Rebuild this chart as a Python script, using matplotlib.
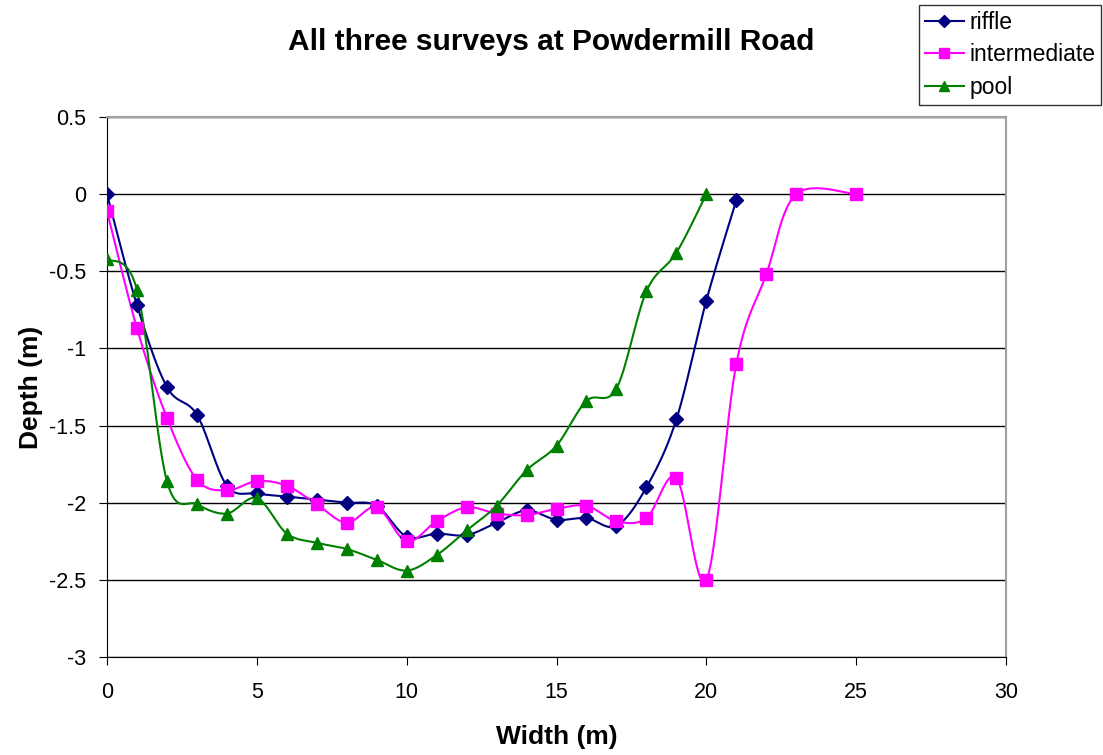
import numpy as np
import matplotlib
matplotlib.use('Agg')
from matplotlib import pyplot as plt

# survey data
riffle_x = list(range(0, 22))
riffle_y = [0.0, -0.72, -1.25, -1.43, -1.89, -1.94, -1.96, -1.98, -2.00, -2.02,
            -2.22, -2.20, -2.21, -2.13, -2.05, -2.11, -2.10, -2.15, -1.90, -1.46,
            -0.69, -0.04]

inter_x = list(range(0, 24)) + [25]
inter_y = [-0.11, -0.87, -1.45, -1.85, -1.92, -1.86, -1.89, -2.01, -2.13, -2.03,
           -2.25, -2.12, -2.03, -2.07, -2.08, -2.04, -2.02, -2.12, -2.10, -1.84,
           -2.50, -1.10, -0.52, 0.0, 0.0]

pool_x = list(range(0, 21))
pool_y = [-0.42, -0.62, -1.86, -2.01, -2.07, -1.97, -2.20, -2.26, -2.30, -2.37,
          -2.44, -2.34, -2.18, -2.02, -1.79, -1.63, -1.34, -1.26, -0.63, -0.38,
          0.0]


def smooth(x, y, n=30):
    """Excel-style smoothed line: Catmull-Rom bezier through the points."""
    x = np.asarray(x, float)
    y = np.asarray(y, float)
    pts = np.column_stack([x, y])
    out = []
    for i in range(len(pts) - 1):
        p0 = pts[i - 1] if i > 0 else pts[i]
        p1 = pts[i]
        p2 = pts[i + 1]
        p3 = pts[i + 2] if i + 2 < len(pts) else pts[i + 1]
        c1 = p1 + (p2 - p0) / 6.0
        c2 = p2 - (p3 - p1) / 6.0
        t = np.linspace(0, 1, n)[:, None]
        seg = ((1 - t) ** 3) * p1 + 3 * ((1 - t) ** 2) * t * c1 \
            + 3 * (1 - t) * t ** 2 * c2 + t ** 3 * p2
        out.append(seg if i == 0 else seg[1:])
    out = np.vstack(out)
    return out[:, 0], out[:, 1]


plt.rcParams['font.family'] = ['Liberation Sans', 'DejaVu Sans']

fig = plt.figure(figsize=(11.03, 7.55), dpi=100)
ax = fig.add_axes([107 / 1103, 1 - 657 / 755, 899 / 1103, 540 / 755])

series = [
    ('riffle', riffle_x, riffle_y, '#000080', 'D', 7),
    ('intermediate', inter_x, inter_y, '#ff00ff', 's', 8),
    ('pool', pool_x, pool_y, '#008000', '^', 8),
]
handles = []
for name, xs, ys, col, mk, ms in series:
    sx, sy = smooth(xs, ys)
    ax.plot(sx, sy, color=col, lw=1.5, zorder=3)
    ax.plot(xs, ys, ls='none', marker=mk, ms=ms, color=col, zorder=4)
    h, = ax.plot([], [], color=col, lw=1.5, marker=mk, ms=ms - 1)
    handles.append(h)

ax.set_xlim(0, 30)
ax.set_ylim(-3, 0.5)
ax.set_xticks(np.arange(0, 31, 5))
ax.set_yticks(np.arange(-3, 0.51, 0.5))
ax.set_yticklabels(['-3', '-2.5', '-2', '-1.5', '-1', '-0.5', '0', '0.5'])
ax.yaxis.grid(True, color='black', lw=1)
ax.set_axisbelow(True)
for s in ['top', 'right']:
    ax.spines[s].set_color('#a0a0a0')
    ax.spines[s].set_linewidth(1.5)
for s in ['left', 'bottom']:
    ax.spines[s].set_color('black')
ax.tick_params(direction='out', length=6, labelsize=15.5)
ax.tick_params(axis='x', pad=12)
ax.tick_params(axis='y', pad=9)

ax.set_xlabel('Width (m)', fontsize=19, fontweight='bold', labelpad=16)
ax.set_ylabel('Depth (m)', fontsize=19, fontweight='bold', labelpad=4)
fig.text(551 / 1103, 1 - 42 / 755, 'All three surveys at Powdermill Road',
         fontsize=21.5, fontweight='bold', ha='center', va='center')

leg = fig.legend(handles, [s[0] for s in series], loc='upper right',
                 bbox_to_anchor=(1101 / 1103, 1 - 5 / 755), fontsize=16.5,
                 frameon=True, fancybox=False, edgecolor='black',
                 handlelength=1.7, handletextpad=0.25, borderpad=0.25,
                 labelspacing=0.42, borderaxespad=0)
leg.get_frame().set_linewidth(1)

fig.savefig('out.png', dpi=100)
